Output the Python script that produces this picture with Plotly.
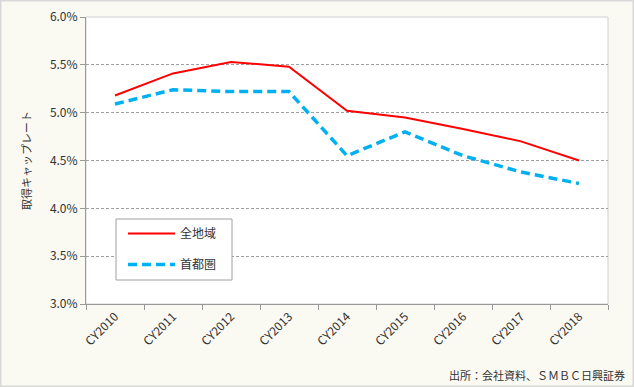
import plotly.graph_objects as go

categories = ["CY2010", "CY2011", "CY2012", "CY2013", "CY2014",
              "CY2015", "CY2016", "CY2017", "CY2018"]
all_region = [5.18, 5.41, 5.53, 5.48, 5.02, 4.95, 4.83, 4.70, 4.50]
metro = [5.09, 5.24, 5.22, 5.22, 4.55, 4.80, 4.55, 4.38, 4.26]
y_ticks = [3.0, 3.5, 4.0, 4.5, 5.0, 5.5, 6.0]
y_ticktext = [f"{v:.1f}%" for v in y_ticks]

font_family = "Noto Sans CJK JP, Noto Sans, sans-serif"

W, H = 634, 387
L, R, T, B = 86, 26, 17, 83
pw, ph = W - L - R, H - T - B


def px(xp):
    return (xp - L) / pw


def py(yp):
    return (H - B - yp) / ph


fig = go.Figure()
fig.add_trace(go.Scatter(
    x=categories, y=all_region, mode="lines", name="全地域",
    line=dict(color="#FF0000", width=2), legendgroup="a"))
fig.add_trace(go.Scatter(
    x=categories, y=metro, mode="lines", name="首都圏",
    line=dict(color="#00B0F0", width=3.5, dash="9px,5px"), legendgroup="b"))

fig.update_layout(
    width=W, height=H,
    margin=dict(l=L, r=R, t=T, b=B, autoexpand=False),
    paper_bgcolor="#FAF9F2",
    plot_bgcolor="#FFFFFF",
    font=dict(family=font_family, size=12, color="#333333"),
    showlegend=True,
    legend=dict(
        x=px(123), y=py(219), xanchor="left", yanchor="top",
        bgcolor="rgba(0,0,0,0)", borderwidth=0,
        font=dict(size=12, color="#333333"),
        tracegroupgap=12, itemwidth=47,
    ),
    xaxis=dict(
        type="category", tickson="boundaries", ticks="outside", ticklen=5,
        tickcolor="#999999", showline=True, linecolor="#999999", linewidth=1,
        tickangle=-45, showgrid=False, tickfont=dict(size=12, color="#333333"),
        range=[-0.5, 8.5],
    ),
    yaxis=dict(
        range=[3.0, 6.0], tickvals=y_ticks, ticktext=y_ticktext,
        ticks="outside", ticklen=5, tickcolor="#999999",
        showline=True, linecolor="#999999", linewidth=1,
        showgrid=True, gridcolor="#A0A0A0", griddash="3px,2px", gridwidth=1,
        zeroline=False,
        title=dict(text="取得キャップレート", font=dict(size=11, color="#333333"), standoff=16),
        tickfont=dict(size=12, color="#333333"),
    ),
    shapes=[
        dict(type="rect", xref="paper", yref="paper", x0=0, x1=1, y0=0, y1=1,
             line=dict(color="#D0D0D0", width=1), layer="below"),
        dict(type="rect", xref="paper", yref="paper", x0=px(0.5), x1=px(633.5),
             y0=py(386.5), y1=py(0.5), line=dict(color="#D8D8D8", width=2), layer="below"),
        dict(type="rect", xref="paper", yref="paper", x0=px(116), x1=px(232),
             y0=py(280), y1=py(219), line=dict(color="#A0A0A0", width=1),
             fillcolor="#FFFFFF", layer="above"),
    ],
    annotations=[
        dict(text="出所：会社資料、ＳＭＢＣ日興証券", xref="paper", yref="paper",
             x=px(627), y=py(375), xanchor="right", yanchor="middle", showarrow=False,
             font=dict(size=11, color="#333333")),
    ],
)

fig.write_html("out.html", config={"displayModeBar": False},
               post_script="document.body.style.margin='0';")
